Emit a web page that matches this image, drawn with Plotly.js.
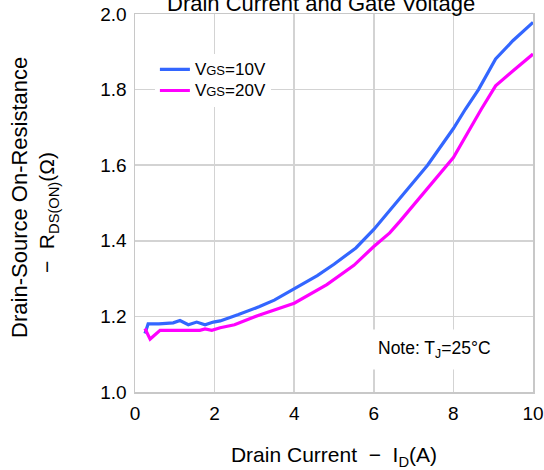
<!DOCTYPE html>
<html>
<head>
<meta charset="utf-8">
<script src="https://cdn.plot.ly/plotly-3.0.1.min.js"></script>
<style>html,body{margin:0;padding:0;background:#fff;}#chart{width:544px;height:470px;}</style>
</head>
<body>
<div id="chart"></div>
<script>
// Drain current (A) and on-resistance (Ohm)
const xVgs10 = [0.25, 0.33, 0.6, 0.96, 1.13, 1.34, 1.55, 1.76, 1.97, 2.14, 2.6, 3.13, 3.5, 4.0, 4.58, 5.0, 5.55, 6.0, 6.55, 7.0, 7.35, 8.0, 8.3, 8.63, 9.06, 9.5, 10];
const yVgs10 = [1.155, 1.18, 1.18, 1.183, 1.189, 1.178, 1.185, 1.178, 1.185, 1.188, 1.205, 1.226, 1.243, 1.272, 1.308, 1.338, 1.381, 1.43, 1.50, 1.556, 1.60, 1.697, 1.748, 1.80, 1.881, 1.93, 1.978];
const xVgs20 = [0.25, 0.38, 0.63, 1.0, 1.4, 1.63, 1.76, 1.93, 2.14, 2.5, 3.13, 3.5, 4.0, 4.82, 5.5, 6.0, 6.4, 6.66, 7.0, 7.85, 8.0, 8.7, 9.06, 9.5, 10];
const yVgs20 = [1.168, 1.14, 1.163, 1.163, 1.163, 1.163, 1.167, 1.163, 1.17, 1.178, 1.204, 1.218, 1.235, 1.284, 1.335, 1.385, 1.421, 1.452, 1.495, 1.60, 1.62, 1.748, 1.81, 1.85, 1.894];
const seriesNames = [
  '<span style="font-size:17px">V</span><span style="font-size:13px">GS</span><span style="font-size:17px">=10V</span>',
  '<span style="font-size:17px">V</span><span style="font-size:13px">GS</span><span style="font-size:17px">=20V</span>'
];
const xTicks = [0, 2, 4, 6, 8, 10];
const yTicks = [1.0, 1.2, 1.4, 1.6, 1.8, 2.0];

const FONT = 'Liberation Sans, Arial, sans-serif';
const traces = [
  {x: xVgs10, y: yVgs10, name: seriesNames[0], mode: 'lines', line: {color: '#3366ff', width: 3.2}},
  {x: xVgs20, y: yVgs20, name: seriesNames[1], mode: 'lines', line: {color: '#ff00ff', width: 3.2}}
];
const layout = {
  width: 544, height: 470,
  margin: {l: 135, r: 11, t: 14, b: 78},
  paper_bgcolor: '#fff', plot_bgcolor: '#fff',
  font: {family: FONT, color: '#000', size: 19},
  showlegend: true,
  legend: {x: 0.05, y: 0.895, xanchor: 'left', yanchor: 'top', bgcolor: '#fff', borderwidth: 0,
           font: {size: 14, family: FONT}, tracegroupgap: 0},
  xaxis: {range: [0, 10], tickvals: xTicks, ticktext: xTicks.map(String), showgrid: true, gridcolor: '#d3d3d3', gridwidth: 1.5,
          zeroline: false, showline: true, linecolor: '#c8c8c8', linewidth: 1.5, mirror: true,
          ticks: 'outside', ticklen: 4, tickcolor: 'rgba(0,0,0,0)',
          tickfont: {size: 19}, title: {text: 'Drain Current  \u2212  I<sub>D</sub>(A)', font: {size: 21}, standoff: 24}},
  yaxis: {range: [1.0, 2.0], tickvals: yTicks, ticktext: yTicks.map(v => v.toFixed(1)), showgrid: true, gridcolor: '#d3d3d3', gridwidth: 1.5,
          zeroline: false, showline: true, linecolor: '#c8c8c8', linewidth: 1.5, mirror: true,
          ticks: 'outside', ticklen: 3, tickcolor: 'rgba(0,0,0,0)',
          tickfont: {size: 19}},
  annotations: [
    {text: 'Drain Current and Gate Voltage', xref: 'paper', yref: 'paper', x: 0.468, y: 1.0, xanchor: 'center', yanchor: 'bottom',
     yshift: -4, showarrow: false, font: {size: 22}},
    {text: 'Drain-Source On-Resistance', xref: 'paper', yref: 'paper', x: -0.29, y: 0.515, textangle: -90,
     xanchor: 'center', yanchor: 'middle', showarrow: false, font: {size: 22}},
    {text: '\u2212  R<sub>DS(ON)</sub>(\u03a9)', xref: 'paper', yref: 'paper', x: -0.217, y: 0.475, textangle: -90,
     xanchor: 'center', yanchor: 'middle', showarrow: false, font: {size: 21}},
    {text: 'Note: T<sub>J</sub>=25\u00b0C', xref: 'paper', yref: 'paper', x: 0.753, y: 0.112, xanchor: 'center', yanchor: 'middle',
     showarrow: false, bgcolor: '#fff', borderpad: 8, font: {size: 17.5}}
  ]
};
Plotly.newPlot('chart', traces, layout, {displayModeBar: false, staticPlot: true});
</script>
</body>
</html>
